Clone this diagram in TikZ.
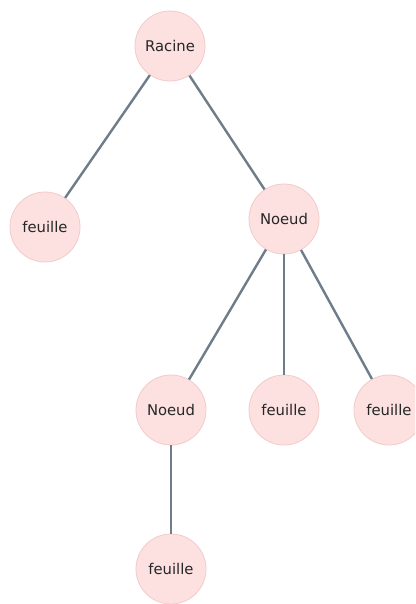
\documentclass[tikz,border=0pt]{standalone}
\usepackage{fontspec}
\setmainfont{DejaVu Sans}
\begin{document}
\begin{tikzpicture}[x=1pt,y=-1pt,
  treenode/.style={circle, minimum size=70pt, inner sep=0pt,
    fill=nodefill, draw=nodeedge, line width=0.8pt,
    font=\fontsize{14.8}{16}\selectfont, text=black!85},
  branch/.style={draw=edgecol, line width=2.4pt}]
\definecolor{nodefill}{HTML}{FDE1E1}
\definecolor{nodeedge}{HTML}{F4CACA}
\definecolor{edgecol}{HTML}{6F7D8A}
\useasboundingbox[fill=white] (0,0) rectangle (415,604);
\begin{scope}
\clip (0,0) rectangle (415,604);
% nodes of the tree
\node[treenode] (root) at (170,46) {Racine};
\node[treenode] (leafA) at (45,227) {feuille};
\node[treenode] (inner1) at (284,219) {Noeud};
\node[treenode] (inner2) at (171,410) {Noeud};
\node[treenode] (leafB) at (284,410) {feuille};
\node[treenode] (leafC) at (389,410) {feuille};
\node[treenode] (leafD) at (171,569) {feuille};
% branches
\path[branch] (root) -- (leafA);
\path[branch] (root) -- (inner1);
\path[branch] (inner1) -- (inner2);
\path[branch] (inner1) -- (leafB);
\path[branch] (inner1) -- (leafC);
\path[branch] (inner2) -- (leafD);
\end{scope}
\end{tikzpicture}
\end{document}
